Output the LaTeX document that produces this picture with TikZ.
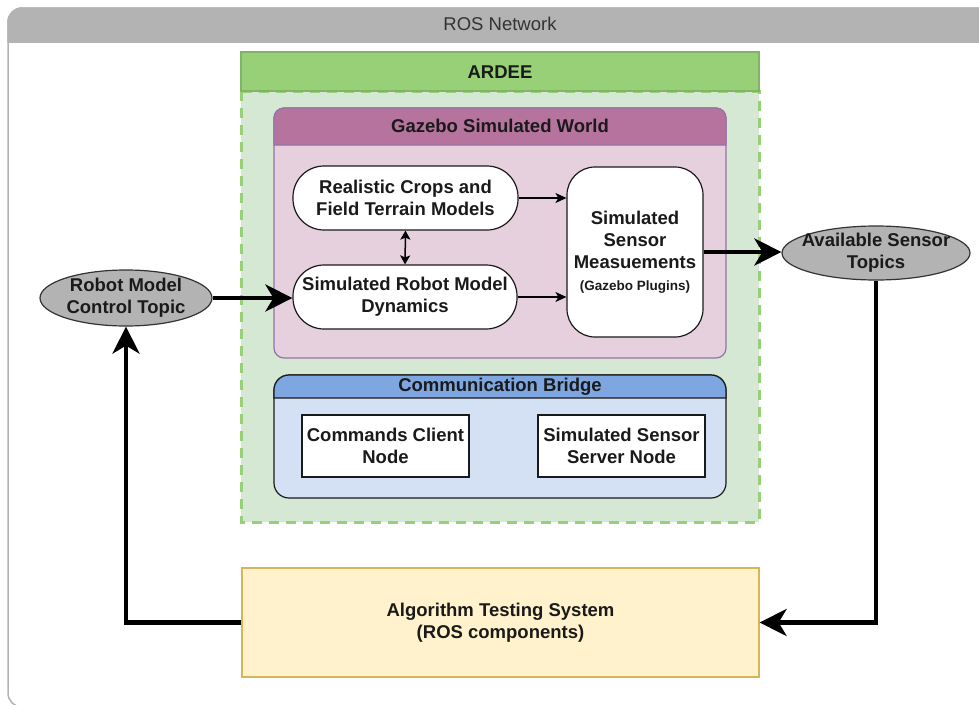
\documentclass[tikz,border=0pt]{standalone}
\usepackage{fontspec}
\setmainfont{Liberation Sans}
\usetikzlibrary{shapes.geometric,arrows.meta}

\definecolor{rosgrau}{HTML}{B3B3B3}
\definecolor{rostext}{HTML}{333333}
\definecolor{ardeekopf}{HTML}{97D077}
\definecolor{ardeekante}{HTML}{82B366}
\definecolor{ardeekoerper}{HTML}{D5E8D4}
\definecolor{gazebokopf}{HTML}{B5739D}
\definecolor{gazebokoerper}{HTML}{E6D0DE}
\definecolor{gazebokante}{HTML}{9673A6}
\definecolor{brueckekopf}{HTML}{7EA6E0}
\definecolor{brueckekoerper}{HTML}{D4E1F5}
\definecolor{algofuell}{HTML}{FFF2CC}
\definecolor{algokante}{HTML}{D6B656}
\definecolor{kantedunkel}{HTML}{1A1A1A}

\begin{document}
\begin{tikzpicture}[x=1pt, y=-1pt,
	schrift/.style={font=\fontsize{18.5}{22}\selectfont\bfseries, align=center, text=kantedunkel},
	pille/.style={schrift, draw=kantedunkel, fill=white, line width=1.2pt, rounded corners=31pt, minimum width=225pt, minimum height=64pt},
	kasten/.style={schrift, draw=kantedunkel, fill=white, line width=1.2pt, minimum width=167pt, minimum height=62pt, inner sep=0pt},
	thema/.style={ellipse, draw=rostext, fill=rosgrau, line width=1.2pt},
	pfeil/.style={-{Stealth[length=11pt,width=10pt,inset=3pt]}, line width=1.2pt},
	doppelpfeil/.style={{Stealth[length=9pt,width=10pt,inset=2pt]}-{Stealth[length=9pt,width=10pt,inset=2pt]}, line width=1.5pt},
	dickpfeil/.style={-{Stealth[length=27pt,width=27pt,inset=8pt]}, line width=4.5pt}]
	\useasboundingbox (0,0) rectangle (979,704);

	% ROS Netzwerk
	\filldraw[draw=rosgrau, fill=white, line width=1.5pt, rounded corners=14pt] (8,8) rectangle (1000,707);
	\filldraw[draw=rosgrau, fill=rosgrau, line width=1.5pt] (8,42) [rounded corners=14pt] -- (8,8) -- (1000,8) [sharp corners] -- (1000,42) -- cycle;
	\node[schrift, font=\fontsize{18.5}{22}\selectfont, text=rostext] (ros) at (500,24) {ROS Network};

	% ARDEE
	\filldraw[draw=ardeekopf, fill=ardeekoerper, line width=3pt, dash pattern=on 10pt off 7pt] (241,91) rectangle (759,522);
	\filldraw[draw=ardeekante, fill=ardeekopf, line width=2.5pt] (241,52) rectangle (759,91);
	\node[schrift] (ardee) at (500,72) {ARDEE};

	% Gazebo Welt
	\filldraw[draw=gazebokante, fill=gazebokoerper, line width=1.2pt, rounded corners=10pt] (274,108) rectangle (726,358);
	\filldraw[draw=gazebokante, fill=gazebokopf, line width=1.2pt] (274,145) [rounded corners=10pt] -- (274,108) -- (726,108) [sharp corners] -- (726,145) -- cycle;
	\node[schrift] (gazebo) at (500,126) {Gazebo Simulated World};

	\node[pille] (crops) at (405.5,198) {Realistic Crops and\\Field Terrain Models};
	\node[pille, minimum width=224pt] (dynamik) at (405,297) {Simulated Robot Model\\Dynamics};
	\node[schrift, draw=kantedunkel, fill=white, line width=1.2pt, rounded corners=28pt, minimum width=136pt, minimum height=170pt] (messung) at (635,252)
		{Simulated\\Sensor\\Measuements\\{\fontsize{13.5}{16}\selectfont (Gazebo Plugins)}};

	\draw[pfeil] (crops.east) -- (crops.east -| messung.west);
	\draw[pfeil] (dynamik.east) -- (dynamik.east -| messung.west);
	\draw[doppelpfeil] (crops.south) -- (dynamik.north);

	% Kommunikationsbruecke
	\filldraw[draw=kantedunkel, fill=brueckekoerper, line width=1.2pt, rounded corners=15pt] (274,375) rectangle (726,498);
	\filldraw[draw=kantedunkel, fill=brueckekopf, line width=1.2pt] (274,398) [rounded corners=15pt] -- (274,375) -- (726,375) [sharp corners] -- (726,398) -- cycle;
	\node[schrift] (bruecke) at (500,386.5) {Communication Bridge};
	\node[kasten] (client) at (385.5,446) {Commands Client\\Node};
	\node[kasten] (server) at (621.5,446) {Simulated Sensor\\Server Node};

	% Topics
	\node[thema, minimum width=172pt, minimum height=56pt] (steuerung) at (126,298) {};
	\node[schrift] (steuerungtext) at (steuerung) {Robot Model\\Control Topic};
	\node[thema, minimum width=188pt, minimum height=54pt] (sensorthema) at (876,253) {};
	\node[schrift] (sensorthematext) at (sensorthema) {Available Sensor\\Topics};

	% Testsystem
	\node[schrift, draw=algokante, fill=algofuell, line width=1.2pt, minimum width=517pt, minimum height=109pt] (algo) at (500.5,622.5)
		{Algorithm Testing System\\(ROS components)};

	% dicke Pfeile
	\draw[dickpfeil] (steuerung.east) -- (steuerung.east -| dynamik.west);
	\draw[dickpfeil] (messung.east) -- (messung.east -| sensorthema.west);
	\draw[dickpfeil] (sensorthema.south) |- (algo.east);
	\draw[dickpfeil] (algo.west) -| (steuerung.south);
\end{tikzpicture}
\end{document}
